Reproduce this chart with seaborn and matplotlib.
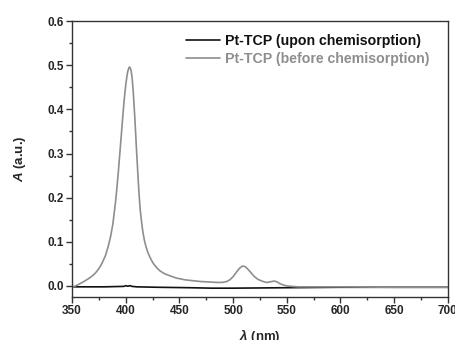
import matplotlib
matplotlib.use("Agg")
import matplotlib.pyplot as plt
import seaborn as sns
import pandas as pd
from matplotlib.ticker import MultipleLocator

# Data
wl_before = [350, 355, 361, 365, 369, 372, 374, 376, 378, 381, 383.5, 386, 388, 389, 390.5, 391.5,
             393, 394, 395.5, 397, 398.5, 400, 401, 402, 403, 403.5, 404, 405, 406, 407,
             408.5, 410, 411.5, 412.5, 413.5, 415, 416, 417.5, 419, 420.5, 422, 424, 426,
             429, 432, 436, 440, 447, 455, 462, 470, 485,
             490, 494, 497, 500, 503, 506, 508, 509.5, 511, 513, 516, 518, 520, 522, 524, 526,
             528, 531, 533, 536, 538, 539.5, 541, 543, 546, 550, 555, 560, 600, 650, 700]
abs_before = [-0.003, 0.002, 0.010, 0.016, 0.023, 0.030, 0.036, 0.043, 0.052, 0.068, 0.088,
              0.113, 0.140, 0.160, 0.190, 0.215, 0.255, 0.285, 0.330, 0.376, 0.420, 0.455,
              0.473, 0.487, 0.494, 0.496, 0.495, 0.488, 0.470, 0.440, 0.380, 0.310, 0.245,
              0.205, 0.172, 0.140, 0.122, 0.102, 0.088, 0.077, 0.068, 0.058, 0.050, 0.041,
              0.034, 0.028, 0.024, 0.018, 0.014, 0.012, 0.010, 0.008, 0.008, 0.010, 0.014,
              0.021, 0.031, 0.040, 0.044, 0.045, 0.044, 0.040, 0.032, 0.026, 0.021, 0.017,
              0.014, 0.012, 0.010, 0.008, 0.0085, 0.010, 0.011, 0.0105, 0.009, 0.006, 0.003,
              0.000, -0.001, -0.002, -0.002, -0.003, -0.003]
wl_upon = [350, 380, 398, 400, 402, 404, 406, 410, 430, 460, 480, 500, 550, 600, 650, 700]
abs_upon = [-0.002, -0.002, -0.001, 0.0005, -0.0005, 0.0005, -0.001, -0.002, -0.003, -0.004,
            -0.005, -0.005, -0.004, -0.003, -0.003, -0.003]
labels = ["Pt-TCP (upon chemisorption)", "Pt-TCP (before chemisorption)"]
x_ticks = [350, 400, 450, 500, 550, 600, 650, 700]
y_ticks = [0.0, 0.1, 0.2, 0.3, 0.4, 0.5, 0.6]

df = pd.concat([
    pd.DataFrame({"wl": wl_upon, "A": abs_upon, "s": labels[0]}),
    pd.DataFrame({"wl": wl_before, "A": abs_before, "s": labels[1]}),
])

sns.set_style("ticks")
plt.rcParams["font.family"] = ["Liberation Sans", "DejaVu Sans"]
plt.rcParams["mathtext.fontset"] = "custom"
plt.rcParams["mathtext.it"] = "Liberation Sans:italic:bold"
plt.rcParams["mathtext.rm"] = "Liberation Sans:bold"

colors = {labels[0]: "#111111", labels[1]: "#8e8e8e"}

fig = plt.figure(figsize=(4.56, 3.40), dpi=100)
ax = fig.add_axes([0.158, 0.1265, 0.824, 0.8115])
sns.lineplot(data=df, x="wl", y="A", hue="s", palette=colors, linewidth=1.2,
             ax=ax, sort=False, estimator=None)

ax.set_xlim(350, 700)
ax.set_ylim(-0.025, 0.6)
ax.set_xticks(x_ticks)
ax.set_yticks(y_ticks)
ax.set_xticklabels([str(v) for v in x_ticks], fontweight="bold", fontsize=8.5)
ax.set_yticklabels([f"{v:.1f}" for v in y_ticks], fontweight="bold", fontsize=8.5)
ax.xaxis.set_minor_locator(MultipleLocator(25))
ax.yaxis.set_minor_locator(MultipleLocator(0.05))
ax.tick_params(which="major", direction="out", length=4, width=1, color="#333333", pad=2)
ax.tick_params(which="minor", direction="out", length=2.5, width=1, color="#333333")
for sp in ax.spines.values():
    sp.set_visible(True)
    sp.set_color("#333333")
    sp.set_linewidth(1.0)

ax.set_xlabel(r"$\lambda$ (nm)", fontweight="bold", fontsize=9.5, labelpad=7)
ax.set_ylabel(r"$A$ (a.u.)", fontweight="bold", fontsize=9.5, labelpad=14)

leg = ax.legend(loc="upper right", bbox_to_anchor=(0.985, 1.0), frameon=False,
                handlelength=2.4, handletextpad=0.35, labelspacing=0.3,
                prop={"weight": "bold", "size": 10.2})
for txt, lab in zip(leg.get_texts(), labels):
    txt.set_color(colors[lab])

fig.savefig("out.png", dpi=100)
